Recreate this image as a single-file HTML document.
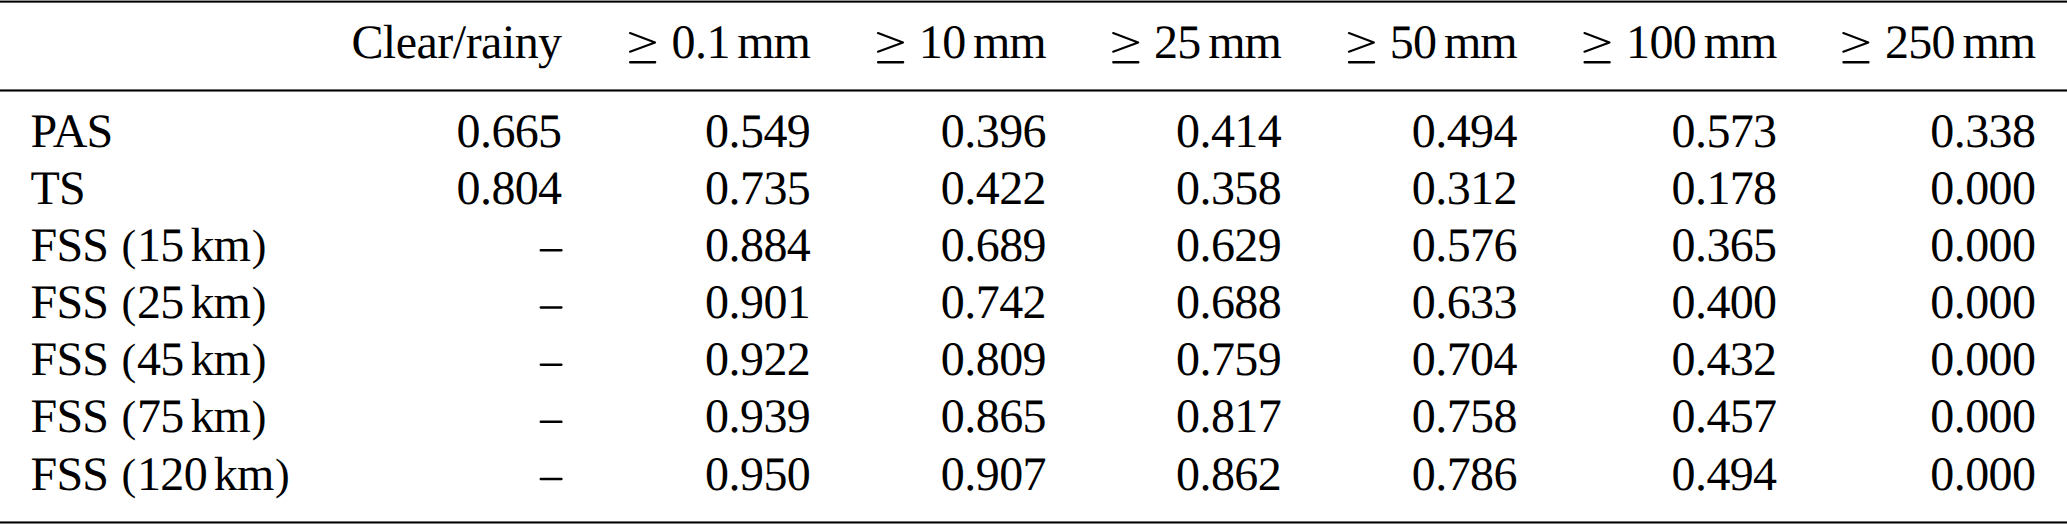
<!DOCTYPE html>
<html><head><meta charset="utf-8"><style>
html,body{margin:0;padding:0;background:#fff;}
body{width:2067px;height:524px;position:relative;overflow:hidden;font-family:"Liberation Serif",serif;font-size:48.00px;color:#000;text-rendering:geometricPrecision;}
.l{position:absolute;left:0;width:2067px;height:1px;}
.ln{position:absolute;left:0;width:2067px;height:60px;}
.ln i{position:absolute;top:0;font-style:normal;line-height:normal;white-space:pre;}
.p{position:absolute;font-style:normal;line-height:normal;font-size:44px;}
svg{position:absolute;left:0;top:0;}
</style></head><body>

<div class="l" style="top:0px;background:rgb(145,145,145)"></div>
<div class="l" style="top:1px;background:rgb(0,0,0)"></div>
<div class="l" style="top:2px;background:rgb(90,90,90)"></div>
<div class="l" style="top:3px;background:rgb(250,250,250)"></div>
<div class="l" style="top:89px;background:rgb(105,105,105)"></div>
<div class="l" style="top:90px;background:rgb(0,0,0)"></div>
<div class="l" style="top:91px;background:rgb(115,115,115)"></div>
<div class="l" style="top:521px;background:rgb(110,110,110)"></div>
<div class="l" style="top:522px;background:rgb(0,0,0)"></div>
<div class="l" style="top:523px;background:rgb(128,128,128)"></div>
<div class="ln" style="top:15px"><i style="left:351.50px">C</i><i style="left:382.87px">l</i><i style="left:395.71px">e</i><i style="left:416.41px">a</i><i style="left:437.18px">r</i><i style="left:452.74px">/</i><i style="left:465.66px">r</i><i style="left:481.11px">a</i><i style="left:501.92px">i</i><i style="left:514.73px">n</i><i style="left:538.04px">y</i><i style="left:737.28px">m</i><i style="left:773.55px">m</i><i style="left:671.41px">0</i><i style="left:694.89px">.</i><i style="left:706.38px">1</i><i style="left:973.03px">m</i><i style="left:1009.30px">m</i><i style="left:918.82px">1</i><i style="left:942.13px">0</i><i style="left:1208.23px">m</i><i style="left:1244.50px">m</i><i style="left:1154.02px">2</i><i style="left:1177.33px">5</i><i style="left:1443.98px">m</i><i style="left:1480.25px">m</i><i style="left:1389.77px">5</i><i style="left:1413.08px">0</i><i style="left:1703.63px">m</i><i style="left:1739.90px">m</i><i style="left:1626.10px">1</i><i style="left:1649.42px">0</i><i style="left:1672.73px">0</i><i style="left:1962.48px">m</i><i style="left:1998.75px">m</i><i style="left:1884.95px">2</i><i style="left:1908.27px">5</i><i style="left:1931.58px">0</i></div>
<div class="ln" style="top:104px"><i style="left:30.47px">P</i><i style="left:52.79px">A</i><i style="left:86.58px">S</i><i style="left:456.44px">0</i><i style="left:479.93px">.</i><i style="left:491.41px">6</i><i style="left:514.73px">6</i><i style="left:538.04px">5</i><i style="left:705.09px">0</i><i style="left:728.58px">.</i><i style="left:740.06px">5</i><i style="left:763.38px">4</i><i style="left:786.69px">9</i><i style="left:940.84px">0</i><i style="left:964.33px">.</i><i style="left:975.81px">3</i><i style="left:999.13px">9</i><i style="left:1022.44px">6</i><i style="left:1176.04px">0</i><i style="left:1199.53px">.</i><i style="left:1211.01px">4</i><i style="left:1234.33px">1</i><i style="left:1257.64px">4</i><i style="left:1411.79px">0</i><i style="left:1435.28px">.</i><i style="left:1446.76px">4</i><i style="left:1470.08px">9</i><i style="left:1493.39px">4</i><i style="left:1671.44px">0</i><i style="left:1694.93px">.</i><i style="left:1706.41px">5</i><i style="left:1729.73px">7</i><i style="left:1753.04px">3</i><i style="left:1930.29px">0</i><i style="left:1953.78px">.</i><i style="left:1965.26px">3</i><i style="left:1988.58px">3</i><i style="left:2011.89px">8</i></div>
<div class="ln" style="top:161px"><i style="left:30.43px">T</i><i style="left:58.95px">S</i><i style="left:456.44px">0</i><i style="left:479.93px">.</i><i style="left:491.41px">8</i><i style="left:514.73px">0</i><i style="left:538.04px">4</i><i style="left:705.09px">0</i><i style="left:728.58px">.</i><i style="left:740.06px">7</i><i style="left:763.38px">3</i><i style="left:786.69px">5</i><i style="left:940.84px">0</i><i style="left:964.33px">.</i><i style="left:975.81px">4</i><i style="left:999.13px">2</i><i style="left:1022.44px">2</i><i style="left:1176.04px">0</i><i style="left:1199.53px">.</i><i style="left:1211.01px">3</i><i style="left:1234.33px">5</i><i style="left:1257.64px">8</i><i style="left:1411.79px">0</i><i style="left:1435.28px">.</i><i style="left:1446.76px">3</i><i style="left:1470.08px">1</i><i style="left:1493.39px">2</i><i style="left:1671.44px">0</i><i style="left:1694.93px">.</i><i style="left:1706.41px">1</i><i style="left:1729.73px">7</i><i style="left:1753.04px">8</i><i style="left:1930.29px">0</i><i style="left:1953.78px">.</i><i style="left:1965.26px">0</i><i style="left:1988.58px">0</i><i style="left:2011.89px">0</i></div>
<div class="ln" style="top:218px"><i style="left:30.47px">F</i><i style="left:56.40px">S</i><i style="left:82.34px">S</i><i style="left:137.06px">1</i><i style="left:160.37px">5</i><i style="left:190.46px">k</i><i style="left:213.58px">m</i><i style="left:705.09px">0</i><i style="left:728.58px">.</i><i style="left:740.06px">8</i><i style="left:763.38px">8</i><i style="left:786.69px">4</i><i style="left:940.84px">0</i><i style="left:964.33px">.</i><i style="left:975.81px">6</i><i style="left:999.13px">8</i><i style="left:1022.44px">9</i><i style="left:1176.04px">0</i><i style="left:1199.53px">.</i><i style="left:1211.01px">6</i><i style="left:1234.33px">2</i><i style="left:1257.64px">9</i><i style="left:1411.79px">0</i><i style="left:1435.28px">.</i><i style="left:1446.76px">5</i><i style="left:1470.08px">7</i><i style="left:1493.39px">6</i><i style="left:1671.44px">0</i><i style="left:1694.93px">.</i><i style="left:1706.41px">3</i><i style="left:1729.73px">6</i><i style="left:1753.04px">5</i><i style="left:1930.29px">0</i><i style="left:1953.78px">.</i><i style="left:1965.26px">0</i><i style="left:1988.58px">0</i><i style="left:2011.89px">0</i></div>
<div class="ln" style="top:275px"><i style="left:30.47px">F</i><i style="left:56.40px">S</i><i style="left:82.34px">S</i><i style="left:137.06px">2</i><i style="left:160.37px">5</i><i style="left:190.46px">k</i><i style="left:213.58px">m</i><i style="left:705.09px">0</i><i style="left:728.58px">.</i><i style="left:740.06px">9</i><i style="left:763.38px">0</i><i style="left:786.69px">1</i><i style="left:940.84px">0</i><i style="left:964.33px">.</i><i style="left:975.81px">7</i><i style="left:999.13px">4</i><i style="left:1022.44px">2</i><i style="left:1176.04px">0</i><i style="left:1199.53px">.</i><i style="left:1211.01px">6</i><i style="left:1234.33px">8</i><i style="left:1257.64px">8</i><i style="left:1411.79px">0</i><i style="left:1435.28px">.</i><i style="left:1446.76px">6</i><i style="left:1470.08px">3</i><i style="left:1493.39px">3</i><i style="left:1671.44px">0</i><i style="left:1694.93px">.</i><i style="left:1706.41px">4</i><i style="left:1729.73px">0</i><i style="left:1753.04px">0</i><i style="left:1930.29px">0</i><i style="left:1953.78px">.</i><i style="left:1965.26px">0</i><i style="left:1988.58px">0</i><i style="left:2011.89px">0</i></div>
<div class="ln" style="top:332px"><i style="left:30.47px">F</i><i style="left:56.40px">S</i><i style="left:82.34px">S</i><i style="left:137.06px">4</i><i style="left:160.37px">5</i><i style="left:190.46px">k</i><i style="left:213.58px">m</i><i style="left:705.09px">0</i><i style="left:728.58px">.</i><i style="left:740.06px">9</i><i style="left:763.38px">2</i><i style="left:786.69px">2</i><i style="left:940.84px">0</i><i style="left:964.33px">.</i><i style="left:975.81px">8</i><i style="left:999.13px">0</i><i style="left:1022.44px">9</i><i style="left:1176.04px">0</i><i style="left:1199.53px">.</i><i style="left:1211.01px">7</i><i style="left:1234.33px">5</i><i style="left:1257.64px">9</i><i style="left:1411.79px">0</i><i style="left:1435.28px">.</i><i style="left:1446.76px">7</i><i style="left:1470.08px">0</i><i style="left:1493.39px">4</i><i style="left:1671.44px">0</i><i style="left:1694.93px">.</i><i style="left:1706.41px">4</i><i style="left:1729.73px">3</i><i style="left:1753.04px">2</i><i style="left:1930.29px">0</i><i style="left:1953.78px">.</i><i style="left:1965.26px">0</i><i style="left:1988.58px">0</i><i style="left:2011.89px">0</i></div>
<div class="ln" style="top:389px"><i style="left:30.47px">F</i><i style="left:56.40px">S</i><i style="left:82.34px">S</i><i style="left:137.06px">7</i><i style="left:160.37px">5</i><i style="left:190.46px">k</i><i style="left:213.58px">m</i><i style="left:705.09px">0</i><i style="left:728.58px">.</i><i style="left:740.06px">9</i><i style="left:763.38px">3</i><i style="left:786.69px">9</i><i style="left:940.84px">0</i><i style="left:964.33px">.</i><i style="left:975.81px">8</i><i style="left:999.13px">6</i><i style="left:1022.44px">5</i><i style="left:1176.04px">0</i><i style="left:1199.53px">.</i><i style="left:1211.01px">8</i><i style="left:1234.33px">1</i><i style="left:1257.64px">7</i><i style="left:1411.79px">0</i><i style="left:1435.28px">.</i><i style="left:1446.76px">7</i><i style="left:1470.08px">5</i><i style="left:1493.39px">8</i><i style="left:1671.44px">0</i><i style="left:1694.93px">.</i><i style="left:1706.41px">4</i><i style="left:1729.73px">5</i><i style="left:1753.04px">7</i><i style="left:1930.29px">0</i><i style="left:1953.78px">.</i><i style="left:1965.26px">0</i><i style="left:1988.58px">0</i><i style="left:2011.89px">0</i></div>
<div class="ln" style="top:447px"><i style="left:30.47px">F</i><i style="left:56.40px">S</i><i style="left:82.34px">S</i><i style="left:137.06px">1</i><i style="left:160.37px">2</i><i style="left:183.69px">0</i><i style="left:213.77px">k</i><i style="left:236.90px">m</i><i style="left:705.09px">0</i><i style="left:728.58px">.</i><i style="left:740.06px">9</i><i style="left:763.38px">5</i><i style="left:786.69px">0</i><i style="left:940.84px">0</i><i style="left:964.33px">.</i><i style="left:975.81px">9</i><i style="left:999.13px">0</i><i style="left:1022.44px">7</i><i style="left:1176.04px">0</i><i style="left:1199.53px">.</i><i style="left:1211.01px">8</i><i style="left:1234.33px">6</i><i style="left:1257.64px">2</i><i style="left:1411.79px">0</i><i style="left:1435.28px">.</i><i style="left:1446.76px">7</i><i style="left:1470.08px">8</i><i style="left:1493.39px">6</i><i style="left:1671.44px">0</i><i style="left:1694.93px">.</i><i style="left:1706.41px">4</i><i style="left:1729.73px">9</i><i style="left:1753.04px">4</i><i style="left:1930.29px">0</i><i style="left:1953.78px">.</i><i style="left:1965.26px">0</i><i style="left:1988.58px">0</i><i style="left:2011.89px">0</i></div>
<i class="p" style="left:121.52px;top:220px">(</i>
<i class="p" style="left:251.63px;top:220px">)</i>
<i class="p" style="left:121.52px;top:277px">(</i>
<i class="p" style="left:251.63px;top:277px">)</i>
<i class="p" style="left:121.52px;top:334px">(</i>
<i class="p" style="left:251.63px;top:334px">)</i>
<i class="p" style="left:121.52px;top:391px">(</i>
<i class="p" style="left:251.63px;top:391px">)</i>
<i class="p" style="left:121.52px;top:449px">(</i>
<i class="p" style="left:274.95px;top:449px">)</i>
<svg width="2067" height="524" viewBox="0 0 2067 524">
<path d="M630.00 33.0L655.05 42.4L630.00 51.7" fill="none" stroke="#000" stroke-width="2.1" stroke-linecap="round" stroke-linejoin="round"/>
<rect x="629.05" y="61.1" width="27.2" height="2.3" rx="1.0" fill="#000"/>
<path d="M877.95 33.0L903.00 42.4L877.95 51.7" fill="none" stroke="#000" stroke-width="2.1" stroke-linecap="round" stroke-linejoin="round"/>
<rect x="877.00" y="61.1" width="27.2" height="2.3" rx="1.0" fill="#000"/>
<path d="M1113.15 33.0L1138.20 42.4L1113.15 51.7" fill="none" stroke="#000" stroke-width="2.1" stroke-linecap="round" stroke-linejoin="round"/>
<rect x="1112.20" y="61.1" width="27.2" height="2.3" rx="1.0" fill="#000"/>
<path d="M1348.90 33.0L1373.95 42.4L1348.90 51.7" fill="none" stroke="#000" stroke-width="2.1" stroke-linecap="round" stroke-linejoin="round"/>
<rect x="1347.95" y="61.1" width="27.2" height="2.3" rx="1.0" fill="#000"/>
<path d="M1584.45 33.0L1609.50 42.4L1584.45 51.7" fill="none" stroke="#000" stroke-width="2.1" stroke-linecap="round" stroke-linejoin="round"/>
<rect x="1583.50" y="61.1" width="27.2" height="2.3" rx="1.0" fill="#000"/>
<path d="M1843.30 33.0L1868.35 42.4L1843.30 51.7" fill="none" stroke="#000" stroke-width="2.1" stroke-linecap="round" stroke-linejoin="round"/>
<rect x="1842.35" y="61.1" width="27.2" height="2.3" rx="1.0" fill="#000"/>
<rect x="539.6" y="249.05" width="23.0" height="2.5" rx="1.1" fill="#000"/>
<rect x="539.6" y="306.22" width="23.0" height="2.5" rx="1.1" fill="#000"/>
<rect x="539.6" y="363.39" width="23.0" height="2.5" rx="1.1" fill="#000"/>
<rect x="539.6" y="420.56" width="23.0" height="2.5" rx="1.1" fill="#000"/>
<rect x="539.6" y="477.73" width="23.0" height="2.5" rx="1.1" fill="#000"/>
</svg>
</body></html>
